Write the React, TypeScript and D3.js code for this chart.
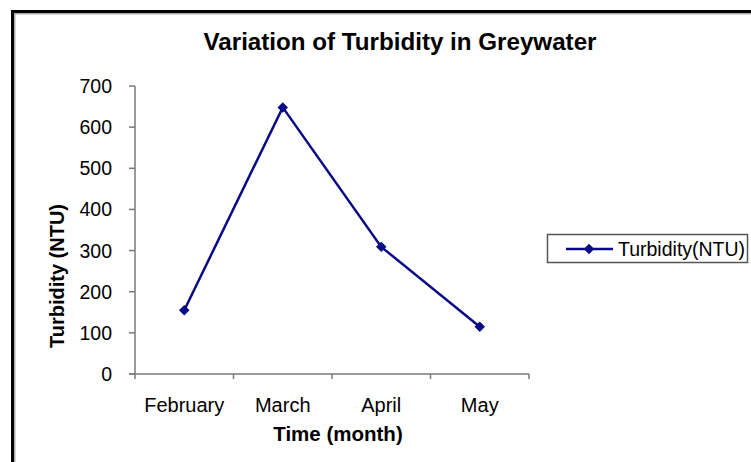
import React from "react";
import * as d3 from "d3";

const months = ["February", "March", "April", "May"];
const turbidity = [155, 648, 309, 115];
const yTicks = [0, 100, 200, 300, 400, 500, 600, 700];
const chartTitle = "Variation of Turbidity in Greywater";
const xTitle = "Time (month)";
const yTitle = "Turbidity (NTU)";
const seriesName = "Turbidity(NTU)";

const W = 751;
const H = 462;
const FONT = "'Liberation Sans', Arial, sans-serif";
const NAVY = "#0a0a86";
const AXIS = "#7a7a7a";

export default function App() {
  const x = d3.scaleBand<string>().domain(months).range([135, 529]).padding(0);
  const y = d3.scaleLinear().domain([0, 700]).range([374, 86]);
  const cx = (m: string) => (x(m) as number) + x.bandwidth() / 2;
  const line = d3
    .line<number>()
    .x((_, i) => cx(months[i]))
    .y((d) => y(d));
  const diamond = d3.symbol().type(d3.symbolDiamond2).size(70)();

  const xTickPos = [...months.map((m) => x(m) as number), 529];

  return (
    <svg
      width={W}
      height={H}
      style={{ position: "absolute", left: 0, top: 0, background: "#fff" }}
      fontFamily={FONT}
    >
      <rect x={0} y={0} width={W} height={H} fill="#fff" />
      {/* frame */}
      <rect x={12.5} y={11.5} width={W + 20} height={H + 20} fill="none" stroke="#000" strokeWidth={3} />
      <rect x={14.8} y={13.8} width={W + 20} height={H + 20} fill="none" stroke="#999" strokeWidth={1.2} />

      <text x={400} y={50} textAnchor="middle" fontSize={24} fontWeight="bold" fill="#000" textLength={393} lengthAdjust="spacingAndGlyphs">
        {chartTitle}
      </text>

      {/* y axis */}
      <line x1={135} x2={135} y1={y(700)} y2={y(0)} stroke={AXIS} strokeWidth={1.5} />
      {yTicks.map((t) => (
        <g key={t}>
          <line x1={129} x2={135} y1={y(t)} y2={y(t)} stroke={AXIS} strokeWidth={1.5} />
          <text x={112} y={y(t) + 7} textAnchor="end" fontSize={19.5} fill="#000">
            {t}
          </text>
        </g>
      ))}

      {/* x axis */}
      <line x1={129} x2={529} y1={y(0)} y2={y(0)} stroke={AXIS} strokeWidth={1.5} />
      {xTickPos.map((p, i) => (
        <line key={i} x1={p} x2={p} y1={y(0)} y2={y(0) + 5} stroke={AXIS} strokeWidth={1.5} />
      ))}
      {months.map((m) => (
        <text key={m} x={cx(m)} y={412} textAnchor="middle" fontSize={20} fill="#000">
          {m}
        </text>
      ))}

      <text x={338} y={440.5} textAnchor="middle" fontSize={20.5} fontWeight="bold" fill="#000">
        {xTitle}
      </text>
      <text
        transform={`translate(64, 276) rotate(-90)`}
        textAnchor="middle"
        fontSize={20}
        fontWeight="bold"
        fill="#000"
      >
        {yTitle}
      </text>

      {/* series */}
      <path d={line(turbidity) as string} fill="none" stroke={NAVY} strokeWidth={2.5} />
      {turbidity.map((v, i) => (
        <path key={i} d={diamond as string} transform={`translate(${cx(months[i])},${y(v)})`} fill={NAVY} />
      ))}

      {/* legend */}
      <rect x={547.5} y={234.5} width={200} height={28} fill="#fff" stroke="#555" strokeWidth={1.5} />
      <line x1={566} x2={613} y1={249} y2={249} stroke={NAVY} strokeWidth={2.5} />
      <path d={diamond as string} transform="translate(589,249)" fill={NAVY} />
      <text x={618} y={256} fontSize={19.5} fill="#000">
        {seriesName}
      </text>
    </svg>
  );
}
